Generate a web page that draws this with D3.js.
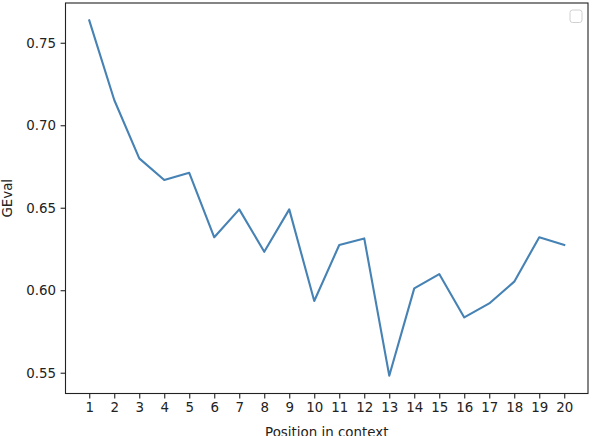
<!DOCTYPE html>
<html><head><meta charset="utf-8">
<script src="https://cdn.jsdelivr.net/npm/d3@7"></script>
<style>html,body{margin:0;padding:0;background:#fff;}svg{display:block;font-family:"DejaVu Sans",sans-serif;}</style>
</head><body>
<svg id="c" width="592" height="436"></svg>
<script>
const positions = [1,2,3,4,5,6,7,8,9,10,11,12,13,14,15,16,17,18,19,20];
const gevalValues = [0.7636,0.7153,0.6799,0.6668,0.6712,0.6321,0.6490,0.6233,0.6490,0.5935,0.6274,0.6314,0.5482,0.6011,0.6098,0.5835,0.5920,0.6052,0.6321,0.6274];
const yTicks = [0.55,0.60,0.65,0.70,0.75];
const xLabel = "Position in context";
const yLabel = "GEval";

const svg = d3.select("#c");
const L = 65.5, R = 588, T = 3, B = 393.5;
const x = d3.scaleLinear().domain([0.05, 20.95]).range([L, R]);
const y = d3.scaleLinear().domain([0.5374, 0.7741]).range([B, T]);
const fs = "13.4px";

const gx = svg.append("g").attr("transform", `translate(0,${B})`)
  .call(d3.axisBottom(x).tickValues(positions).tickFormat(d3.format("d")).tickSize(4.9).tickPadding(4.5));
const gy = svg.append("g").attr("transform", `translate(${L},0)`)
  .call(d3.axisLeft(y).tickValues(yTicks).tickFormat(d3.format(".2f")).tickSize(4.9).tickPadding(4.5));
[gx, gy].forEach(g => {
  g.select(".domain").remove();
  g.selectAll(".tick line").attr("stroke", "#222").attr("stroke-width", 1.1);
  g.selectAll(".tick text").attr("fill", "#222").style("font-size", fs).style("font-family", "DejaVu Sans");
});

svg.append("path").datum(positions.map((p, i) => [p, gevalValues[i]]))
  .attr("fill", "none").attr("stroke", "#4682b4").attr("stroke-width", 2.1)
  .attr("stroke-linejoin", "round").attr("stroke-linecap", "square")
  .attr("d", d3.line().x(d => x(d[0])).y(d => y(d[1])));

svg.append("rect").attr("x", L).attr("y", T).attr("width", R - L).attr("height", B - T)
  .attr("fill", "none").attr("stroke", "#222").attr("stroke-width", 1.1);

// empty legend
svg.append("rect").attr("x", 570).attr("y", 10).attr("width", 12).attr("height", 12.5)
  .attr("rx", 2.5).attr("fill", "#fff").attr("stroke", "#d0d0d0").attr("stroke-width", 1);

svg.append("text").attr("x", (L + R) / 2).attr("y", 437).attr("text-anchor", "middle")
  .style("font-size", fs).attr("fill", "#222").text(xLabel);
svg.append("text").attr("transform", `translate(12,${(T + B) / 2}) rotate(-90)`).attr("text-anchor", "middle")
  .style("font-size", fs).attr("fill", "#222").text(yLabel);
</script>
</body></html>
